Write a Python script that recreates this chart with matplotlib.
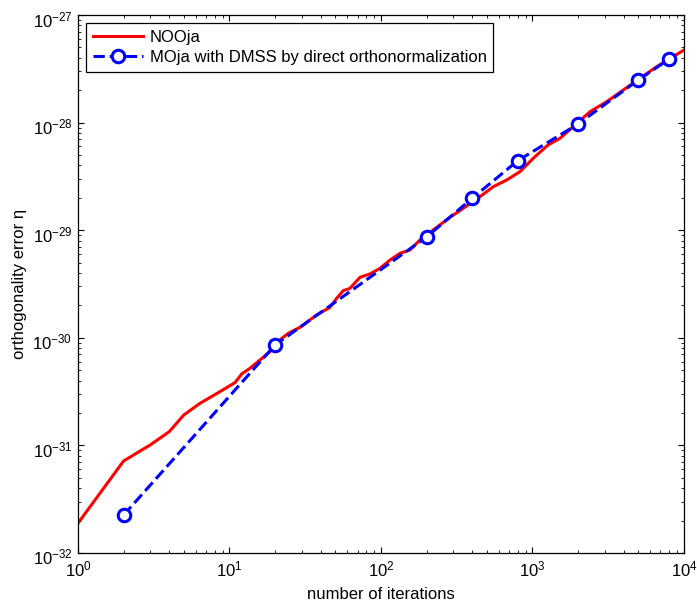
import matplotlib
matplotlib.use('Agg')
import matplotlib.pyplot as plt
import matplotlib.transforms as mtransforms

plt.rcParams['font.family'] = ['Liberation Sans', 'DejaVu Sans']
plt.rcParams['mathtext.fontset'] = 'custom'
plt.rcParams['mathtext.rm'] = 'Liberation Sans'
plt.rcParams['mathtext.it'] = 'Liberation Sans:italic'

# NOOja curve
nooja_x = [1, 2, 3, 4, 5, 6.39, 8.66, 10.87, 12.04, 13.65, 15.9, 18.5, 21.5, 24.4,
           29.2, 37.6, 46.1, 51.0, 56.4, 62.4, 72.7, 84.6, 98.5, 114.7, 133.5,
           155.4, 180.9, 221.4, 285.4, 349.3, 450.3, 551.0, 675.5, 827.0, 1012,
           1266, 1519, 1859, 2396, 3090, 3976, 5124, 6604, 8500, 10000]
nooja_y = [1.89e-32, 7.16e-32, 1.01e-31, 1.34e-31, 1.92e-31, 2.46e-31, 3.16e-31,
           3.83e-31, 4.61e-31, 5.21e-31, 6.22e-31, 7.43e-31, 9.54e-31, 1.10e-30,
           1.25e-30, 1.63e-30, 1.92e-30, 2.33e-30, 2.74e-30, 2.88e-30, 3.65e-30,
           3.92e-30, 4.42e-30, 5.28e-30, 6.10e-30, 6.55e-30, 8.11e-30, 1.005e-29,
           1.318e-29, 1.597e-29, 2.048e-29, 2.536e-29, 2.927e-29, 3.497e-29,
           4.66e-29, 6.19e-29, 7.14e-29, 9.16e-29, 1.262e-28, 1.564e-28,
           2.009e-28, 2.58e-28, 3.31e-28, 4.10e-28, 4.73e-28]

# MOja with DMSS
moja_x = [2, 20, 200, 400, 800, 2000, 5000, 8000]
moja_y = [2.25e-32, 8.57e-31, 8.65e-30, 1.98e-29, 4.43e-29, 9.7e-29, 2.49e-28, 3.9e-28]

fig = plt.figure(figsize=(6.97, 6.07), dpi=100)
ax = fig.add_axes([0.1119, 0.0890, 0.8694, 0.8863])

ax.plot(nooja_x, nooja_y, color='red', lw=2.2, label='NOOja')
ax.plot(moja_x, moja_y, color='blue', lw=2.2, ls='--', marker='o', ms=9,
        mfc='white', mec='blue', mew=2.2,
        label='MOja with DMSS by direct orthonormalization')

ax.set_xscale('log')
ax.set_yscale('log')
ax.set_xlim(1, 1e4)
ax.set_ylim(1e-32, 1e-27)

ax.tick_params(which='both', direction='in', top=True, right=True, labelsize=12)
ax.tick_params(which='major', length=4.3)
ax.tick_params(which='minor', length=2.2)
ax.tick_params(axis='x', which='both', pad=5)
ax.tick_params(axis='y', which='both', pad=4)
for s in ax.spines.values():
    s.set_linewidth(0.9)

# shift y tick labels down a little, so the base sits on the tick
offset = mtransforms.ScaledTranslation(0, -2.5 / 72, fig.dpi_scale_trans)
for lbl in ax.get_yticklabels():
    lbl.set_transform(lbl.get_transform() + offset)

ax.set_xlabel('number of iterations', fontsize=12, labelpad=5)
ax.set_ylabel('orthogonality error η', fontsize=12, labelpad=4)

leg = ax.legend(loc='upper left', fontsize=12, fancybox=False, framealpha=1,
                edgecolor='black', handlelength=3.0, handletextpad=0.4,
                labelspacing=0.3, borderaxespad=0.5)
leg.get_frame().set_linewidth(0.9)

fig.savefig('out.png', dpi=100)
